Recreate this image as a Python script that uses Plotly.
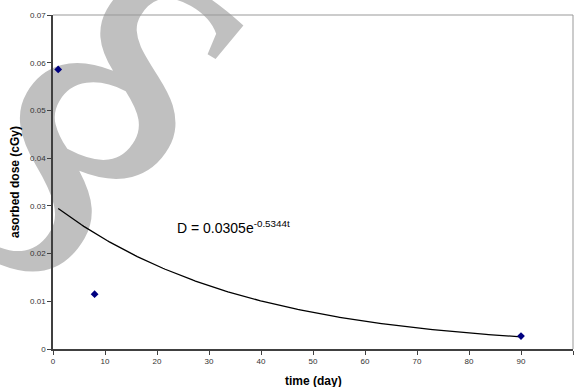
import base64
import numpy as np
import plotly.graph_objects as go

# Data
time_day = [1, 8, 90]
dose_cgy = [0.0586, 0.0115, 0.0027]
equation_text = "D = 0.0305e<sup>-0.5344t</sup>"
x_title = "time (day)"
y_title = "asorbed dose (cGy)"

W, H = 574, 387
ML, MR, MT, MB = 53, 1, 15, 38
PW, PH = W - ML - MR, H - MT - MB

# Exponential trendline fitted to the data (as Excel does)
b, ln_a = np.polyfit(time_day, np.log(dose_cgy), 1)
tx = np.linspace(min(time_day), max(time_day), 200)
ty = np.exp(ln_a) * np.exp(b * tx)

fig = go.Figure()
fig.add_trace(go.Scatter(x=tx, y=ty, mode="lines",
                         line=dict(color="black", width=1.3),
                         hoverinfo="skip", showlegend=False))
fig.add_trace(go.Scatter(x=time_day, y=dose_cgy, mode="markers",
                         marker=dict(symbol="diamond", size=6, color="#000080"),
                         showlegend=False))

tick_font = dict(family="Arial, Liberation Sans, sans-serif", size=8, color="#333333")
fig.update_xaxes(range=[0, 100], dtick=10, tick0=0, showgrid=False, zeroline=False,
                 showline=True, linecolor="#404040", linewidth=1.5,
                 ticks="outside", ticklen=4, tickcolor="#404040",
                 tickfont=tick_font)
fig.update_yaxes(range=[0, 0.07], dtick=0.01, tick0=0, showgrid=False, zeroline=False,
                 showline=True, linecolor="#404040", linewidth=1.5,
                 ticks="outside", ticklen=4, tickcolor="#404040",
                 tickfont=tick_font)

# light border on top/right
fig.add_shape(type="line", xref="paper", yref="paper", x0=0, x1=1, y0=1, y1=1,
              line=dict(color="#999999", width=1))
fig.add_shape(type="line", xref="paper", yref="paper", x0=1, x1=1, y0=0, y1=1,
              line=dict(color="#999999", width=1))

# watermark, drawn beneath everything as an SVG image
svg = (f'<svg xmlns="http://www.w3.org/2000/svg" width="{W}" height="{H}" viewBox="0 0 {W} {H}">'
       '<text x="100" y="100" transform="rotate(30 100 100)" text-anchor="middle" '
       'dominant-baseline="central" font-family="Liberation Serif" font-style="italic" '
       'font-size="420" fill="#c0c0c0">&#167;</text></svg>')
uri = "data:image/svg+xml;base64," + base64.b64encode(svg.encode()).decode()
fig.add_layout_image(source=uri, xref="paper", yref="paper",
                     x=-ML / PW, y=1 + MT / PH, sizex=W / PW, sizey=H / PH,
                     xanchor="left", yanchor="top", sizing="stretch", layer="below")

fig.add_annotation(text=equation_text, x=23.4, y=0.0256, xanchor="left", yanchor="middle",
                   showarrow=False,
                   font=dict(family="Arial, Liberation Sans, sans-serif", size=14, color="black"))
fig.add_annotation(text="<b>" + x_title + "</b>", xref="paper", yref="paper",
                   x=0.5, y=0, yshift=-32, xanchor="center", yanchor="middle", showarrow=False,
                   font=dict(family="Arial, Liberation Sans, sans-serif", size=12, color="black"))
fig.add_annotation(text="<b>" + y_title + "</b>", xref="paper", yref="paper",
                   x=0, xshift=-38, y=0.5, textangle=-90, xanchor="center", yanchor="middle",
                   showarrow=False,
                   font=dict(family="Arial, Liberation Sans, sans-serif", size=12, color="black"))

fig.update_layout(width=W, height=H, margin=dict(l=ML, r=MR, t=MT, b=MB),
                  paper_bgcolor="white", plot_bgcolor="rgba(0,0,0,0)")
fig.write_html("out.html", config={"displayModeBar": False},
               post_script="document.body.style.margin='0';document.body.style.overflow='hidden';")
